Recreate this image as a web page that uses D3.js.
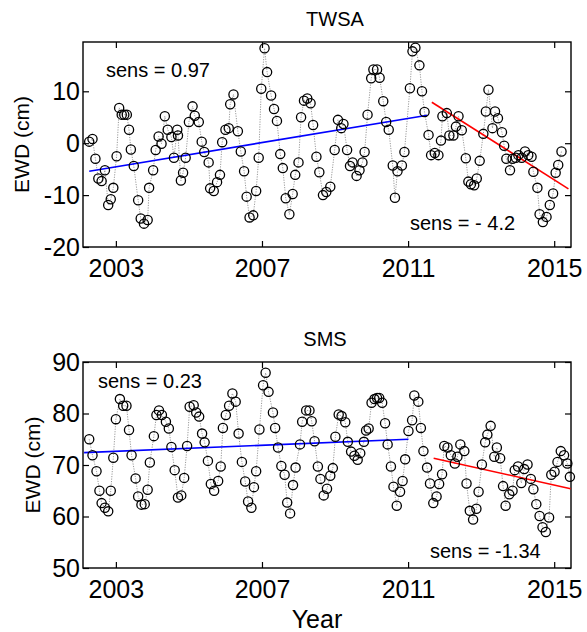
<!DOCTYPE html>
<html>
<head>
<meta charset="utf-8">
<script src="https://cdn.jsdelivr.net/npm/d3@7"></script>
<style>
  body { margin: 0; background: #fff; }
  text { font-family: "Liberation Sans", Arial, sans-serif; fill: #000; }
</style>
</head>
<body>
<div id="chart"></div>
<script>
// values (decimal year, cm)
const twsaYears = [2002.27,2002.36,2002.44,2002.52,2002.61,2002.70,2002.79,2002.86,2002.93,
  2003.02,2003.09,2003.16,2003.23,2003.30,2003.36,2003.41,2003.49,2003.61,2003.68,2003.77,2003.87,2003.91,
  2004.02,2004.09,2004.17,2004.25,2004.34,2004.42,2004.52,2004.59,2004.68,2004.70,2004.78,2004.84,2004.91,
  2005.00,2005.10,2005.16,2005.27,2005.35,2005.42,2005.54,2005.58,2005.68,2005.77,2005.85,2005.91,
  2006.00,2006.09,2006.13,2006.22,2006.34,2006.42,2006.51,2006.58,2006.66,2006.76,2006.84,2006.91,2006.98,
  2007.07,2007.14,2007.25,2007.33,2007.41,2007.50,2007.57,2007.65,2007.75,2007.84,2007.91,
  2008.00,2008.07,2008.15,2008.24,2008.33,2008.40,2008.49,2008.57,2008.67,2008.76,2008.87,2008.99,
  2009.08,2009.17,2009.23,2009.33,2009.41,2009.48,2009.59,2009.67,2009.75,2009.81,2009.89,2009.99,
  2010.05,2010.15,2010.22,2010.32,2010.40,2010.47,2010.58,2010.64,2010.71,2010.83,2010.90,
  2011.05,2011.12,2011.20,2011.31,2011.38,2011.45,2011.56,2011.63,2011.73,2011.83,2011.90,2011.94,
  2012.06,2012.13,2012.24,2012.31,2012.38,2012.47,2012.58,2012.65,2012.72,2012.81,2012.88,2012.96,
  2013.06,2013.13,2013.20,2013.31,2013.38,2013.46,2013.57,2013.63,2013.69,2013.79,2013.86,2013.95,
  2014.02,2014.11,2014.20,2014.29,2014.38,2014.43,2014.54,2014.60,2014.69,2014.79,2014.88,2014.97,
  2015.04,2015.11,2015.20];
const twsaValues = [0.3,0.8,-3.0,-6.8,-7.3,-5.2,-11.9,-10.8,-8.6,
  -2.5,6.8,5.5,5.5,5.5,2.6,-1.2,-4.4,-11.0,-14.5,-15.5,-14.8,-8.6,
  -5.2,-1.3,1.3,-0.1,5.2,2.6,1.2,-2.8,2.6,1.5,-7.2,-5.7,-2.8,
  4.1,7.1,5.3,4.1,0.3,-1.7,-3.7,-8.7,-9.2,-7.5,-6.1,0.2,
  2.6,2.9,7.5,9.4,2.3,-1.6,-5.4,-10.3,-14.3,-13.9,-9.2,-2.8,10.5,
  18.3,13.7,9.2,6.6,4.3,-2.1,-4.8,-10.6,-13.7,-9.8,-6.1,
  -3.7,5.0,8.2,8.6,7.7,3.5,-2.6,-5.6,-10.0,-9.4,-8.4,-1.3,
  4.5,2.9,3.7,-1.3,-4.4,-3.7,-6.3,-5.2,-3.7,-1.7,5.5,12.5,
  14.2,14.2,12.6,8.1,4.1,2.6,-4.3,-10.5,-5.4,-4.3,-1.7,
  10.6,17.7,18.4,15.0,10.0,6.0,1.6,-2.3,-1.9,-2.3,0.5,5.2,
  5.8,1.5,1.5,3.2,5.2,2.5,-2.9,-7.4,-7.9,-8.1,-6.8,-3.4,
  1.8,6.1,10.3,2.9,6.1,4.8,2.1,-0.5,-3.0,-5.2,-3.0,-2.8,
  -2.3,-2.8,-1.6,-2.3,-2.6,-5.5,-8.6,-13.7,-15.2,-14.2,-11.9,-9.7,
  -5.7,-4.2,-1.6];

const smsYears = [2002.27,2002.36,2002.47,2002.55,2002.61,2002.70,2002.79,2002.86,2002.93,
  2003.00,2003.11,2003.20,2003.29,2003.36,2003.43,2003.54,2003.61,2003.70,2003.79,2003.87,2003.93,
  2004.04,2004.11,2004.18,2004.26,2004.37,2004.45,2004.52,2004.61,2004.70,2004.79,2004.87,2004.95,
  2005.02,2005.13,2005.20,2005.28,2005.36,2005.43,2005.52,2005.60,2005.69,2005.80,2005.87,2005.93,
  2006.01,2006.10,2006.19,2006.28,2006.36,2006.45,2006.54,2006.62,2006.71,2006.78,2006.84,2006.93,
  2007.03,2007.10,2007.18,2007.30,2007.36,2007.44,2007.53,2007.62,2007.69,2007.77,2007.85,2007.92,
  2008.04,2008.10,2008.21,2008.30,2008.36,2008.44,2008.53,2008.60,2008.69,2008.78,2008.87,2008.94,
  2009.01,2009.10,2009.18,2009.28,2009.35,2009.44,2009.53,2009.62,2009.69,2009.79,2009.85,2009.92,
  2010.00,2010.08,2010.15,2010.21,2010.29,2010.37,2010.44,2010.53,2010.60,2010.69,2010.78,2010.85,2010.92,
  2011.01,2011.11,2011.17,2011.28,2011.35,2011.42,2011.52,2011.60,2011.69,2011.78,2011.85,2011.93,2011.99,
  2012.08,2012.17,2012.28,2012.35,2012.43,2012.54,2012.60,2012.69,2012.78,2012.87,2012.93,
  2013.02,2013.11,2013.17,2013.26,2013.36,2013.43,2013.52,2013.60,2013.67,2013.77,2013.86,2013.92,
  2014.01,2014.10,2014.18,2014.27,2014.36,2014.43,2014.51,2014.60,2014.68,2014.77,2014.86,2014.92,
  2015.01,2015.09,2015.18,2015.27,2015.36,2015.43];
const smsValues = [75.0,71.9,68.8,65.0,62.6,61.7,61.0,65.0,71.4,
  78.9,82.8,81.5,81.5,76.8,71.9,67.4,63.9,62.3,62.4,65.2,70.5,
  75.6,79.7,80.6,79.7,78.4,77.1,73.5,69.0,63.7,64.1,67.5,73.7,
  81.3,81.6,80.2,79.4,76.1,74.4,70.8,66.3,65.0,66.9,69.7,77.2,
  79.7,81.5,83.9,82.3,76.1,70.6,66.8,62.9,61.7,65.7,68.8,76.9,
  85.5,87.9,84.2,80.2,77.2,73.4,69.8,68.1,62.7,60.6,66.1,69.5,
  74.0,78.4,80.6,80.6,78.5,74.6,69.7,67.3,64.1,65.4,67.9,69.4,
  75.5,79.8,79.5,78.3,74.5,72.6,71.8,71.0,72.3,74.5,76.7,77.1,
  82.1,82.8,83.0,83.0,82.1,78.1,74.0,69.7,65.8,62.1,64.8,66.9,71.1,
  76.6,78.7,83.5,82.3,77.2,72.7,69.5,66.4,62.6,63.9,66.3,68.2,73.7,
  73.4,71.9,70.3,71.6,74.0,72.7,66.4,61.1,59.4,61.5,64.8,
  70.1,74.4,75.9,77.6,71.6,73.4,71.3,65.9,62.1,64.3,65.0,69.0,
  69.7,66.5,69.2,70.1,67.3,65.3,62.4,60.1,57.9,57.0,59.8,68.1,
  68.7,70.6,72.7,71.9,70.3,67.7];

// trend segments [year, value] end points
const twsaTrendBefore = [[2002.27, -5.4], [2011.53, 5.4]];
const twsaTrendAfter = [[2011.65, 7.9], [2015.39, -8.8]];
const smsTrendBefore = [[2002.13, 72.4], [2011.01, 75.0]];
const smsTrendAfter = [[2011.70, 71.3], [2015.45, 65.4]];

const yearTicks = [2003, 2007, 2011, 2015];
const twsaTicks = [-20, -10, 0, 10];
const smsTicks = [50, 60, 70, 80, 90];

const width = 587, height = 632;
const left = 83, right = 571;

const svg = d3.select("#chart")
    .append("svg")
    .attr("width", width)
    .attr("height", height);

const x = d3.scaleLinear().domain([2002.1, 2015.46]).range([left, right]);

function drawPanel(p) {
    const y = d3.scaleLinear().domain(p.domain).range([p.bottom, p.top]);
    const g = svg.append("g");

    // ticks inside the box on all four sides
    const ax = g.append("g").attr("transform", `translate(0,${p.bottom})`)
        .call(d3.axisBottom(x).tickValues(yearTicks).tickFormat(d3.format("d")).tickSize(-6).tickPadding(12));
    g.append("g").attr("transform", `translate(0,${p.top})`)
        .call(d3.axisTop(x).tickValues(yearTicks).tickFormat("").tickSize(-6));
    const ay = g.append("g").attr("transform", `translate(${left},0)`)
        .call(d3.axisLeft(y).tickValues(p.ticks).tickFormat(d3.format("d")).tickSize(-6).tickPadding(3));
    g.append("g").attr("transform", `translate(${right},0)`)
        .call(d3.axisRight(y).tickValues(p.ticks).tickFormat("").tickSize(-6));
    g.selectAll(".domain").remove();
    g.selectAll(".tick line").attr("stroke", "#000").attr("stroke-width", 1.2);
    g.selectAll(".tick text").attr("font-size", 25).attr("font-family", "Liberation Sans, Arial, sans-serif");
    ay.selectAll(".tick text").text(d => d < 0 ? "-" + Math.abs(d) : d);

    g.append("rect")
        .attr("x", left).attr("y", p.top)
        .attr("width", right - left).attr("height", p.bottom - p.top)
        .attr("fill", "none").attr("stroke", "#000").attr("stroke-width", 1.4);

    const pts = p.years.map((t, i) => [t, p.values[i]]);
    const line = d3.line().x(d => x(d[0])).y(d => y(d[1]));

    g.append("path").datum(pts)
        .attr("d", line)
        .attr("fill", "none")
        .attr("stroke", "#9a9a9a")
        .attr("stroke-width", 1)
        .attr("stroke-dasharray", "1.2,1.3");

    g.append("path").datum(p.trendBefore).attr("d", line)
        .attr("fill", "none").attr("stroke", "#0000ff").attr("stroke-width", 1.6);
    g.append("path").datum(p.trendAfter).attr("d", line)
        .attr("fill", "none").attr("stroke", "#ff0000").attr("stroke-width", 1.6);

    g.selectAll("circle").data(pts).join("circle")
        .attr("cx", d => x(d[0]))
        .attr("cy", d => y(d[1]))
        .attr("r", 4.6)
        .attr("fill", "none")
        .attr("stroke", "#000")
        .attr("stroke-width", 1.3);

    g.append("text")
        .attr("x", p.titleX).attr("y", p.top - 16)
        .attr("text-anchor", "middle")
        .attr("font-size", 20)
        .text(p.title);

    g.append("text")
        .attr("transform", `translate(${p.labelX},${(p.top + p.bottom) / 2}) rotate(-90)`)
        .attr("text-anchor", "middle")
        .attr("dy", "0.35em")
        .attr("font-size", 21)
        .text("EWD (cm)");

    p.sens.forEach(s => {
        g.append("text")
            .attr("x", s.x).attr("y", s.y)
            .attr("font-size", 20)
            .text(s.text);
    });
}

drawPanel({
    title: "TWSA", titleX: 335, labelX: 22,
    top: 42, bottom: 247,
    domain: [-20, 19.5], ticks: twsaTicks,
    years: twsaYears, values: twsaValues,
    trendBefore: twsaTrendBefore, trendAfter: twsaTrendAfter,
    sens: [{x: 106, y: 77, text: "sens = 0.97"}, {x: 410, y: 230, text: "sens = - 4.2"}]
});

drawPanel({
    title: "SMS", titleX: 325, labelX: 33,
    top: 362, bottom: 568,
    domain: [50, 90], ticks: smsTicks,
    years: smsYears, values: smsValues,
    trendBefore: smsTrendBefore, trendAfter: smsTrendAfter,
    sens: [{x: 98, y: 388, text: "sens = 0.23"}, {x: 430, y: 558, text: "sens = -1.34"}]
});

svg.append("text")
    .attr("x", 317).attr("y", 628)
    .attr("text-anchor", "middle")
    .attr("font-size", 25)
    .text("Year");
</script>
</body>
</html>
